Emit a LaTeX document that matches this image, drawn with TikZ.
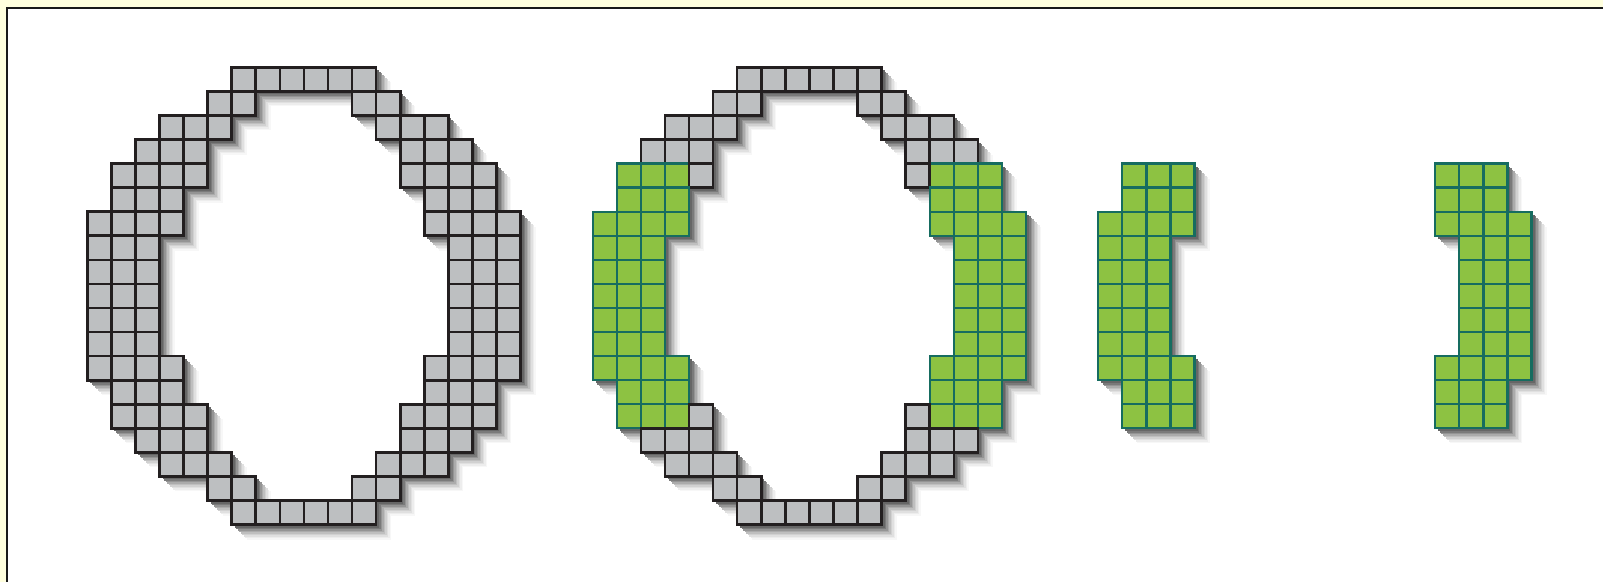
\documentclass[tikz,border=0pt]{standalone}
\definecolor{bgyellow}{RGB}{255,255,222}
\definecolor{cellgray}{RGB}{189,191,193}
\definecolor{cellline}{RGB}{35,31,32}
\definecolor{cellgreen}{RGB}{141,194,66}
\definecolor{greenline}{RGB}{22,108,96}
\tikzset{
  graycell/.style={fill=cellgray, draw=cellline, line width=1.3pt},
  greencell/.style={fill=cellgreen, draw=greenline, line width=1.15pt},
}
\newcommand\Cs{24.07}
\newcommand\Ox{87.3}
\newcommand\Oy{67.3}
\newcommand\cellat[3]{\path[#3] ({\Ox+(#1)*\Cs},{\Oy+(#2)*\Cs}) rectangle +(\Cs,\Cs);}
\newcommand\shadowcell[4]{\fill[fill=#4] ({\Ox+(#1)*\Cs+#3},{\Oy+(#2)*\Cs+#3}) rectangle +(\Cs,\Cs);}
\newcommand\ringrows{0/6/11,1/5/6,2/3/5,3/2/4,4/1/4,5/1/3,6/0/3,7/0/2,8/0/2,9/0/2,10/0/2,11/0/2,12/0/3,13/1/3,14/1/4,15/2/4,16/3/5,17/5/6,18/6/11}
\begin{document}
\begin{tikzpicture}[x=0.5pt,y=-0.5pt]
\useasboundingbox (0,0) rectangle (1603,582);
\fill[bgyellow] (0,0) rectangle (1603,582);
\fill[white] (6.7,8.3) rectangle (1603,582);
\draw[line width=0.85pt, black!90] (1603,8.3) -- (6.7,8.3) -- (6.7,582);
% shadows (layered to imitate a blur)
\foreach \dd/\shc in {15/black!3,13.5/black!7,12/black!12,10.5/black!18,9/black!25,7.5/black!33,6/black!42,4.5/black!52,3/black!60} {
  \foreach \ri/\lo/\hi in \ringrows {
    \foreach \ci in {\lo,...,\hi} {
      \pgfmathtruncatemacro\cm{17-\ci}
      \pgfmathtruncatemacro\isg{and(and(\ri>3,\ri<15),\ci<4)}
      \shadowcell{\ci}{\ri}{\dd}{\shc}
      \shadowcell{\cm}{\ri}{\dd}{\shc}
      \shadowcell{\ci+21}{\ri}{\dd}{\shc}
      \shadowcell{\cm+21}{\ri}{\dd}{\shc}
      \ifnum\isg=1
        \shadowcell{\ci+42}{\ri}{\dd}{\shc}
        \shadowcell{\cm+42}{\ri}{\dd}{\shc}
      \fi
    }
  }
}
% cells
\foreach \ri/\lo/\hi in \ringrows {
  \foreach \ci in {\lo,...,\hi} {
    \pgfmathtruncatemacro\cm{17-\ci}
    \pgfmathtruncatemacro\isg{and(and(\ri>3,\ri<15),\ci<4)}
    \cellat{\ci}{\ri}{graycell}
    \cellat{\cm}{\ri}{graycell}
    \ifnum\isg=1
      \cellat{\ci+21}{\ri}{greencell}
      \cellat{\cm+21}{\ri}{greencell}
      \cellat{\ci+42}{\ri}{greencell}
      \cellat{\cm+42}{\ri}{greencell}
    \else
      \cellat{\ci+21}{\ri}{graycell}
      \cellat{\cm+21}{\ri}{graycell}
    \fi
  }
}
\end{tikzpicture}
\end{document}
